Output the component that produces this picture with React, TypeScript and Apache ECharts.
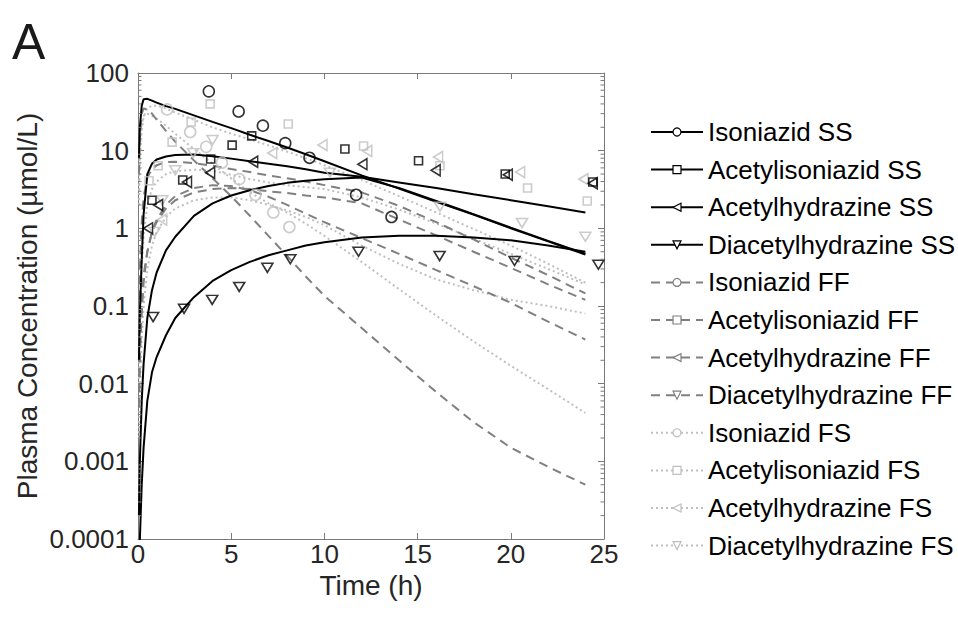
import React, { useEffect, useRef } from 'react';
import * as echarts from 'echarts';

// ---------- data ----------
const modelTimes = [0.05, 0.1, 0.2, 0.3, 0.5, 0.75, 1, 1.5, 2, 3, 4, 5, 6, 7, 8, 9, 10, 12, 14, 16, 18, 20, 22, 24];

const isoSS = [8, 20, 38, 46, 46.5, 44, 41.5, 37.5, 34.5, 28.5, 23.5, 19.5, 16, 13.3, 11, 9, 7.3, 4.8, 3.25, 2.2, 1.5, 1.0, 0.68, 0.46];
const acIsoSS = [0.02, 0.08, 0.4, 1.5, 5.0, 6.8, 7.7, 8.4, 8.8, 8.9, 8.5, 7.9, 7.3, 6.8, 6.3, 5.75, 5.2, 4.6, 3.9, 3.3, 2.75, 2.3, 1.92, 1.6];
const acHydSS = [0.0002, 0.001, 0.006, 0.018, 0.07, 0.16, 0.27, 0.52, 0.78, 1.45, 2.1, 2.65, 3.1, 3.5, 3.85, 4.1, 4.3, 4.5, 3.3, 2.25, 1.52, 1.02, 0.69, 0.47];
const diacSS = [0.00002, 0.0001, 0.0005, 0.0015, 0.006, 0.014, 0.022, 0.042, 0.07, 0.13, 0.21, 0.29, 0.37, 0.45, 0.52, 0.6, 0.66, 0.76, 0.8, 0.8, 0.76, 0.7, 0.6, 0.5];

const isoFF = [5, 15, 30, 35, 34, 30, 25, 18, 13, 7.5, 4.4, 2.6, 1.45, 0.8, 0.44, 0.24, 0.135, 0.052, 0.02, 0.0078, 0.0032, 0.0015, 0.00085, 0.0005];
const acIsoFF = [0.05, 0.3, 1.2, 2.5, 4.5, 5.8, 6.5, 7.1, 7.2, 6.9, 6.4, 5.8, 5.3, 4.8, 4.4, 4.0, 3.6, 2.9, 1.95, 1.2, 0.72, 0.42, 0.25, 0.145];
const acHydFF = [0.005, 0.03, 0.12, 0.25, 0.5, 0.9, 1.2, 1.8, 2.3, 2.9, 3.2, 3.3, 3.2, 3.0, 2.85, 2.65, 2.5, 2.1, 1.3, 0.81, 0.5, 0.31, 0.19, 0.12];
const diacFF = [0.005, 0.02, 0.08, 0.2, 0.5, 0.9, 1.3, 2.0, 2.6, 3.3, 3.6, 3.5, 3.1, 2.55, 2.0, 1.55, 1.2, 0.75, 0.47, 0.29, 0.18, 0.11, 0.063, 0.037];

const isoFS = [3, 10, 22, 28, 30, 28, 26, 21, 16.5, 10.5, 6.8, 4.4, 2.9, 2.1, 1.6, 1.15, 0.8, 0.37, 0.165, 0.075, 0.035, 0.017, 0.0085, 0.0042];
const acIsoFS = [2, 8, 18, 27, 35, 38, 38, 35, 31, 25, 20, 16.5, 14, 11.7, 9.7, 8, 6.5, 4.2, 2.6, 1.6, 0.98, 0.6, 0.35, 0.2];
const acHydFS = [0.01, 0.05, 0.3, 0.8, 2, 3.2, 4, 5, 5.4, 5.7, 5.5, 4.9, 4.3, 3.9, 3.6, 3.4, 3.2, 2.5, 1.75, 1.15, 0.74, 0.47, 0.3, 0.19];
const diacFS = [0.002, 0.008, 0.04, 0.1, 0.3, 0.6, 0.9, 1.4, 1.8, 2.3, 2.5, 2.5, 2.3, 2.0, 1.7, 1.4, 1.1, 0.6, 0.35, 0.22, 0.16, 0.12, 0.1, 0.08];

// observed (SS, black markers)
const obsIsoSS_t = [3.8, 5.4, 6.7, 7.9, 9.2, 11.7, 13.6];
const obsIsoSS_c = [58, 32, 21, 12.5, 8.1, 2.7, 1.4];
const obsAcIsoSS_t = [0.75, 2.4, 3.9, 5.05, 6.1, 11.1, 15.05, 19.7, 24.4];
const obsAcIsoSS_c = [2.3, 4.2, 7.8, 11.8, 15.5, 10.5, 7.4, 5.0, 3.95];
const obsAcHydSS_t = [0.54, 1.08, 2.63, 3.87, 6.18, 12.04, 15.97, 19.84, 24.4];
const obsAcHydSS_c = [1.0, 2.0, 3.95, 5.2, 7.2, 6.7, 5.6, 4.9, 3.8];
const obsDiacSS_t = [0.81, 2.47, 3.98, 5.43, 6.94, 8.17, 11.83, 16.18, 20.2, 24.7];
const obsDiacSS_c = [0.072, 0.092, 0.12, 0.176, 0.31, 0.4, 0.5, 0.44, 0.38, 0.34];

// observed (FS, light grey markers)
const obsIsoFS_t = [1.56, 2.8, 3.66, 4.5, 5.43, 6.3, 7.26, 8.12];
const obsIsoFS_c = [34, 17.4, 11.2, 7.0, 4.3, 2.7, 1.6, 1.04];
const obsAcIsoFS_t = [0.59, 1.08, 1.83, 2.85, 3.87, 8.06, 12.1, 16.2, 20.9, 24.1];
const obsAcIsoFS_c = [4.1, 6.4, 12.9, 23.4, 40, 22, 11.5, 6.4, 3.3, 2.25];
const obsAcHydFS_t = [1.3, 7.2, 9.9, 12.3, 16.1, 20.5, 23.9];
const obsAcHydFS_c = [1.3, 9.3, 11.8, 9.9, 8.3, 5.3, 4.3];
const obsDiacFS_t = [0.9, 1.3, 2.0, 2.96, 4.0, 10.3, 16.2, 20.6, 24.0];
const obsDiacFS_c = [0.9, 2.3, 5.6, 9.3, 13.7, 5.2, 1.9, 1.17, 0.78];

const seriesNames = [
  'Isoniazid SS', 'Acetylisoniazid SS', 'Acetylhydrazine SS', 'Diacetylhydrazine SS',
  'Isoniazid FF', 'Acetylisoniazid FF', 'Acetylhydrazine FF', 'Diacetylhydrazine FF',
  'Isoniazid FS', 'Acetylisoniazid FS', 'Acetylhydrazine FS', 'Diacetylhydrazine FS',
];
const modelValues = [isoSS, acIsoSS, acHydSS, diacSS, isoFF, acIsoFF, acHydFF, diacFF, isoFS, acIsoFS, acHydFS, diacFS];

const xTicks = [0, 5, 10, 15, 20, 25];

// ---------- styles ----------
const FONT = '"Liberation Sans", Arial, Helvetica, sans-serif';
const SYM_LEFT = 'path://M0,5L10,0L10,10Z';
const SYM_DOWN = 'path://M0,0L10,0L5,10Z';
const symbols = ['circle', 'rect', SYM_LEFT, SYM_DOWN];
const groupColors = ['#000000', '#808080', '#bfbfbf'];
const groupTypes: any[] = ['solid', [9, 6], [2, 3]];
const AXIS_COLOR = '#7a7a7a';
const TEXT_COLOR = '#262626';

export default function App() {
  const ref = useRef<HTMLDivElement>(null);

  useEffect(() => {
    if (!ref.current) return;
    const chart = echarts.init(ref.current, undefined, { renderer: 'svg' });

    const lineSeries = seriesNames.map((name, i) => {
      const g = Math.floor(i / 4);
      const col = groupColors[g];
      return {
        name,
        type: 'line',
        xAxisIndex: 0,
        yAxisIndex: 0,
        data: modelTimes.map((t, k) => [t, modelValues[i][k]]),
        symbol: symbols[i % 4],
        symbolSize: 8,
        showSymbol: false,
        smooth: false,
        clip: true,
        silent: true,
        z: 2 + (2 - g),
        itemStyle: { color: '#ffffff', borderColor: col, borderWidth: 1.2 },
        lineStyle: { color: col, width: 2, type: groupTypes[g] },
      };
    });

    const mkScatter = (id: string, ts: number[], cs: number[], sym: string, col: string, size: any) => ({
      name: id,
      type: 'scatter',
      xAxisIndex: 0,
      yAxisIndex: 0,
      data: ts.map((t, k) => [t, cs[k]]),
      symbol: sym,
      symbolSize: size,
      silent: true,
      z: 5,
      itemStyle: { color: 'rgba(0,0,0,0)', borderColor: col, borderWidth: 1.6 },
    });

    const scatterSeries = [
      mkScatter('obsAcHydFS', obsAcHydFS_t, obsAcHydFS_c, SYM_LEFT, '#bfbfbf', [9, 11]),
      mkScatter('obsDiacFS', obsDiacFS_t, obsDiacFS_c, SYM_DOWN, '#bfbfbf', [11, 9]),
      mkScatter('obsIsoFS', obsIsoFS_t, obsIsoFS_c, 'circle', '#bfbfbf', 11),
      mkScatter('obsAcIsoFS', obsAcIsoFS_t, obsAcIsoFS_c, 'rect', '#bfbfbf', 8),
      mkScatter('obsIsoSS', obsIsoSS_t, obsIsoSS_c, 'circle', '#000000', 11),
      mkScatter('obsAcIsoSS', obsAcIsoSS_t, obsAcIsoSS_c, 'rect', '#000000', 8),
      mkScatter('obsAcHydSS', obsAcHydSS_t, obsAcHydSS_c, SYM_LEFT, '#000000', [9, 11]),
      mkScatter('obsDiacSS', obsDiacSS_t, obsDiacSS_c, SYM_DOWN, '#000000', [11, 9]),
    ];

    const minorTicks: number[][] = [];
    for (let e = -4; e < 2; e++) {
      for (let m = 2; m <= 9; m++) minorTicks.push([0, m * Math.pow(10, e)]);
    }

    const tickSeries = {
      name: 'minorTicks',
      type: 'custom',
      xAxisIndex: 0,
      yAxisIndex: 0,
      silent: true,
      z: 10,
      encode: { x: 0, y: 1 },
      data: minorTicks,
      renderItem: (_p: any, api: any) => {
        const v = api.value(1);
        const pl = api.coord([0, v]);
        const pr = api.coord([25, v]);
        return {
          type: 'group',
          children: [
            { type: 'line', shape: { x1: pl[0], y1: pl[1], x2: pl[0] + 3.5, y2: pl[1] }, style: { stroke: AXIS_COLOR, lineWidth: 1 } },
            { type: 'line', shape: { x1: pr[0] - 3.5, y1: pr[1], x2: pr[0], y2: pr[1] }, style: { stroke: AXIS_COLOR, lineWidth: 1 } },
          ],
        };
      },
    };

    const yFmt = (v: number) => {
      const e = Math.round(Math.log10(v));
      if (e >= 0) return String(Math.round(v));
      return v.toFixed(-e);
    };

    const axisCommon = {
      axisLine: { show: true, onZero: false, lineStyle: { color: AXIS_COLOR, width: 1 } },
      axisTick: { show: true, inside: true, length: 6, lineStyle: { color: AXIS_COLOR, width: 1 } },
      splitLine: { show: false },
    };

    chart.setOption({
      animation: false,
      backgroundColor: '#ffffff',
      textStyle: { fontFamily: FONT },
      graphic: [
        {
          type: 'text',
          left: 12,
          top: 17,
          style: { text: 'A', font: `50px ${FONT}`, fill: '#1a1a1a' },
        },
      ],
      grid: { left: 138, right: 354, top: 73, bottom: 83, containLabel: false },
      xAxis: [
        {
          type: 'value',
          min: xTicks[0],
          max: xTicks[xTicks.length - 1],
          interval: 5,
          position: 'bottom',
          ...axisCommon,
          axisLabel: { color: TEXT_COLOR, fontSize: 26, fontFamily: FONT, margin: 2 },
          name: 'Time (h)',
          nameLocation: 'middle',
          nameGap: 23,
          nameTextStyle: { color: TEXT_COLOR, fontSize: 28, fontFamily: FONT },
        },
        {
          type: 'value',
          min: xTicks[0],
          max: xTicks[xTicks.length - 1],
          interval: 5,
          position: 'top',
          ...axisCommon,
          axisLabel: { show: false },
        },
      ],
      yAxis: [
        {
          type: 'log',
          logBase: 10,
          min: 0.0001,
          max: 100,
          splitNumber: 6,
          position: 'left',
          ...axisCommon,
          axisLabel: { color: TEXT_COLOR, fontSize: 26, fontFamily: FONT, margin: 9, formatter: yFmt },
          name: 'Plasma Concentration (µmol/L)',
          nameLocation: 'middle',
          nameGap: 97,
          nameTextStyle: { color: TEXT_COLOR, fontSize: 28, fontFamily: FONT },
        },
        {
          type: 'log',
          logBase: 10,
          min: 0.0001,
          max: 100,
          splitNumber: 6,
          position: 'right',
          ...axisCommon,
          axisLabel: { show: false },
        },
      ],
      legend: {
        orient: 'vertical',
        left: 645,
        top: 114,
        itemWidth: 52,
        itemHeight: 10,
        itemGap: 11.6,
        selectedMode: false,
        textStyle: { color: '#000000', fontSize: 26, fontFamily: FONT },
        data: seriesNames.map((name, i) => {
          const g = Math.floor(i / 4);
          const col = groupColors[g];
          return {
            name,
            itemStyle: { color: '#ffffff', borderColor: col, borderWidth: 1.2 },
            lineStyle: { color: col, width: 2, type: groupTypes[g] },
          };
        }),
      },
      series: [...lineSeries, ...scatterSeries, tickSeries],
    } as any);

    return () => chart.dispose();
  }, []);

  return (
    <div
      ref={ref}
      style={{ position: 'absolute', left: 0, top: 0, width: 958, height: 622, background: '#fff' }}
    />
  );
}
